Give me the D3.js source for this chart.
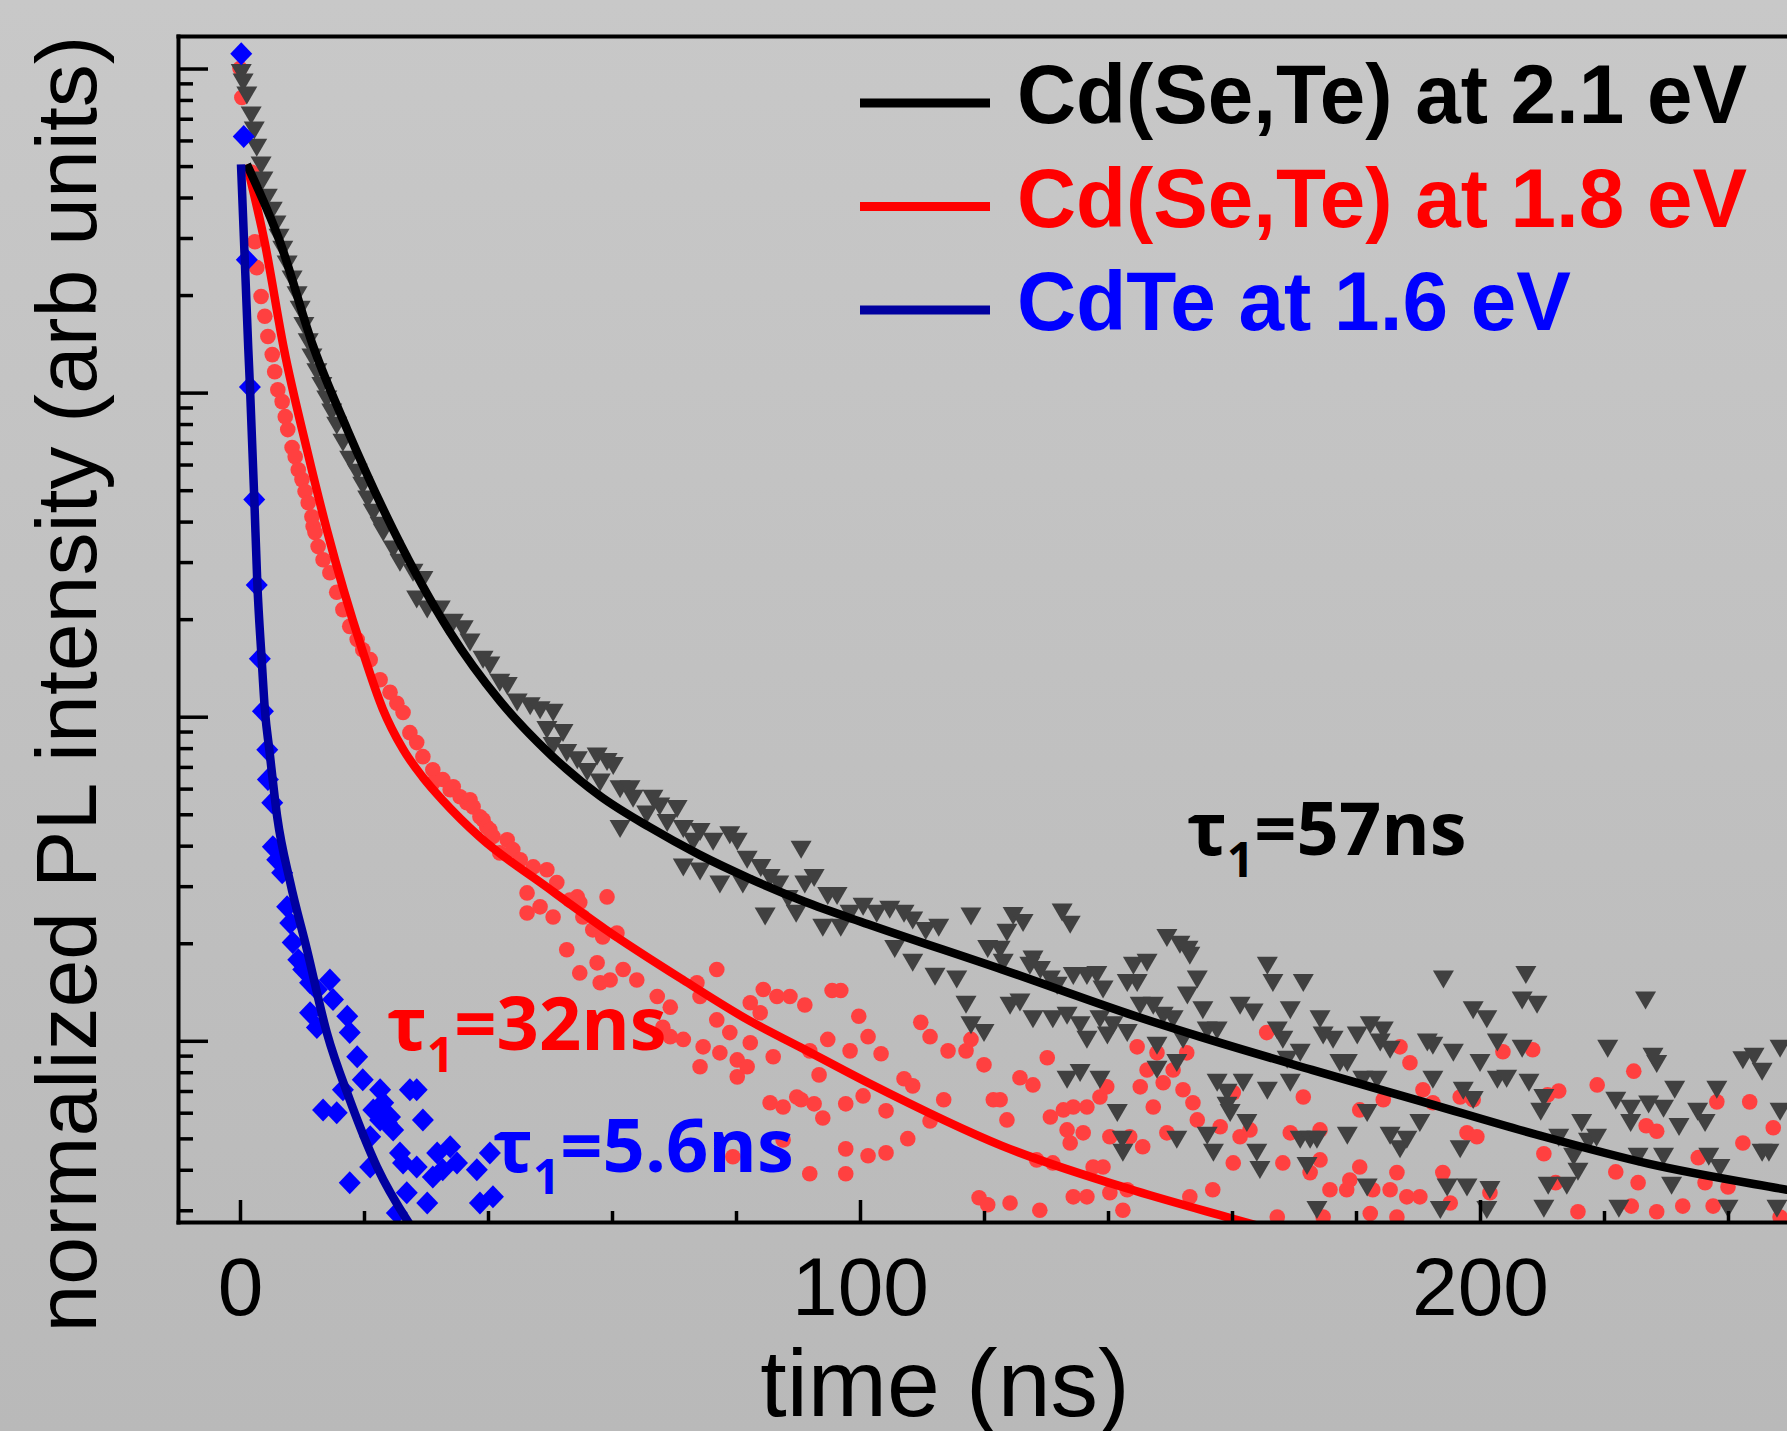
<!DOCTYPE html>
<html lang="en">
<head>
<meta charset="utf-8">
<style>
  body { margin:0; padding:0; background:#c0c0c0; }
  svg { display:block; }
  .lbl { font-family: "Liberation Sans", Arial, sans-serif; }
  .note { font-family: "Open Sans", "Noto Sans", sans-serif; font-weight: 700; }
</style>
</head>
<body>
<svg id="chart" width="1787" height="1431"></svg>
<script src="https://cdn.jsdelivr.net/npm/d3@7"></script>
<script>
// ---- data (time in ns, normalized PL intensity) ----
const xDomain = [-10, 260];
const yDomain = [2.76e-4, 1.26];
const xMajorTicks = [0, 100, 200];
const xMinorTicks = [20, 40, 60, 80, 120, 140, 160, 180, 220, 240];
const yMajorTicks = [1e-3, 1e-2, 1e-1, 1];

const seriesNames = ["Cd(Se,Te) at 2.1 eV", "Cd(Se,Te) at 1.8 eV", "CdTe at 1.6 eV"];
const lifetimes = ["57ns", "32ns", "5.6ns"];

// Cd(Se,Te) at 2.1 eV (triangles)
const blackPts = [
[0.2,0.99],[0.5,0.925],[1.1,0.843],[1.8,0.732],[2.3,0.658],[2.7,0.582],[3.4,0.513],[3.7,0.461],[4.4,0.408],[5.2,0.372],[5.8,0.337],[6.3,0.307],[6.9,0.282],[7.6,0.254],[8.4,0.228],[9.2,0.204],[9.7,0.184],[10.3,0.164],[11.0,0.146],[11.6,0.131],[12.4,0.118],[13.2,0.107],[14.0,0.0972],[14.8,0.0887],[15.6,0.0808],[16.6,0.0716],[17.7,0.0634],[18.9,0.0578],[19.8,0.0527],[20.6,0.0478],[21.5,0.0435],[22.6,0.0397],
[23.1,0.0378],[24.7,0.0335],[25.8,0.0305],[27.9,0.0284],[29.5,0.0270],[28.5,0.0235],[30.2,0.0219],[32.3,0.0219],[33.4,0.0195],[34.4,0.0199],[36.0,0.0190],[37.1,0.0173],[39.2,0.0153],[40.3,0.0147],[41.9,0.0130],[43.1,0.0127],[44.7,0.0113],[46.8,0.0110],[48.4,0.0107],[50.5,0.0105],[49.5,0.0093],[52.1,0.0091],[50.5,0.0083],[52.7,0.0079],[54.4,0.0075],[57.6,0.0077],[59.2,0.0074],[60.2,0.0072],[56.0,0.0069],[58.1,0.0064],[61.3,0.0061],[62.9,0.0061],[63.4,0.0057],[66.6,0.0057],[67.7,0.0054],[70.5,0.0053],[65.6,0.0051],[68.9,0.0048],[61.3,0.0046],[71.5,0.0046],[74.2,0.0045],[73.1,0.0042],[76.3,0.0042],[79.0,0.0044],[80.2,0.0042],[71.5,0.0035],[74.2,0.0034],[77.4,0.0031],[81.1,0.0031],[81.8,0.0037],
[84.0,0.00349],[85.5,0.00325],[86.9,0.00310],[88.4,0.00280],[89.7,0.00252],[84.7,0.00247],[91.1,0.00310],[92.6,0.00325],[94.8,0.00286],[96.3,0.00286],[90.5,0.00397],[94.0,0.00228],[96.9,0.00228],[98.4,0.00252],[100.5,0.00265],[102.7,0.00252],[104.8,0.00259],[107.1,0.00252],[108.5,0.00240],[110.6,0.00223],[112.7,0.00228],[105.6,0.00196],[108.5,0.00178],[112.1,0.00161],[115.6,0.00158],[117.9,0.00247],[120.6,0.00196],[117.1,0.00132],[117.9,0.00114],[120.0,0.00108],
[124.7,0.00248],[126.3,0.00236],[123.7,0.00220],[132.6,0.00254],[133.9,0.00233],[122.6,0.00195],[123.1,0.00178],[127.9,0.00182],[129.1,0.00169],[127.4,0.00174],[130.7,0.00158],[131.8,0.00151],[134.4,0.00162],[136.6,0.00162],[138.2,0.00163],[139.2,0.00147],[144.1,0.00174],[146.3,0.00178],[143.1,0.00154],[144.7,0.00154],[149.5,0.00212],[151.6,0.00202],[152.9,0.00195],[153.2,0.00187],[154.4,0.00158],[152.8,0.00141],[124.2,0.00131],[125.8,0.00134],[127.9,0.00119],[131.1,0.00119],[133.4,0.00122],[135.5,0.00114],[136.6,0.00103],[138.7,0.00119],[140.8,0.00114],[143.1,0.00108],[139.9,0.00106],[145.2,0.00131],[147.3,0.00131],[148.9,0.00122],[150.5,0.00119],[152.1,0.00103],[155.3,0.00127],[156.0,0.00110],[157.6,0.00110],[161.3,0.00131],[163.4,0.00125],[165.7,0.00174],[166.6,0.00154],[171.5,0.00154],[169.4,0.00127],[167.3,0.00110],[168.2,0.00103],[174.2,0.00119],[174.7,0.00106],[176.3,0.00103],[180.2,0.00106],[182.3,0.00114],[184.4,0.00110],[183.9,0.00101],[185.5,0.000958],[191.5,0.00101],[192.4,0.000986],[194.1,0.00158],[195.7,0.000938],[198.9,0.00127],[201.1,0.00119],[202.8,0.00101],[200.0,0.000873],
[133.4,0.000774],[135.5,0.000813],[138.7,0.000774],[147.9,0.000832],[151.1,0.000873],[147.9,0.000986],[157.6,0.000758],[159.2,0.000706],[161.8,0.000758],[165.7,0.000717],[169.4,0.000758],[168.9,0.000893],[171.0,0.000938],[177.4,0.000873],[178.6,0.000873],[181.1,0.000774],[183.4,0.000774],[192.4,0.000774],[197.3,0.000717],[198.9,0.000671],[202.8,0.000774],
[141.5,0.000612],[142.3,0.000506],[142.4,0.000461],[151.1,0.000506],[156.0,0.000520],[157.0,0.000461],[159.2,0.000644],[159.7,0.000612],[162.4,0.000570],[164.0,0.000461],[164.5,0.000408],[171.0,0.000506],[172.6,0.000506],[173.7,0.000506],[172.1,0.000420],[178.6,0.000520],[181.8,0.000612],[185.5,0.000520],[187.1,0.000473],[188.2,0.000506],[190.3,0.000570],[196.8,0.000473],[201.6,0.000354],[197.9,0.000360],[194.7,0.000360],[181.8,0.000360],[173.7,0.000307],[193.6,0.000307],[201.1,0.000307],
[204.3,0.000780],[206.8,0.000966],[207.9,0.000758],[207.4,0.00163],[206.8,0.00136],[209.2,0.00132],[209.8,0.000617],[210.3,0.000681],[211.0,0.000365],[212.7,0.000513],[214.0,0.000365],[215.1,0.000448],[215.8,0.000403],[216.4,0.000570],[217.5,0.000499],[218.8,0.000513],[220.6,0.000966],[221.9,0.000667],[224.3,0.000630],[224.3,0.000570],[225.5,0.000448],[226.7,0.00136],[227.2,0.000650],[227.9,0.000912],[228.5,0.000866],[229.6,0.000448],[229.6,0.000630],[230.9,0.000365],[231.4,0.000721],[232.1,0.000554],[235.1,0.000617],[236.3,0.000570],[236.9,0.000448],[238.2,0.000721],[238.7,0.000414],[240.0,0.000310],[242.4,0.000890],[244.2,0.000912],[245.5,0.000820],[245.5,0.000461],[246.6,0.000461],[247.9,0.000310],[248.4,0.000966],[248.4,0.000617],[210.3,0.000310],[222.4,0.000310]
];

// Cd(Se,Te) at 1.8 eV (circles)
const redPts = [
[0.0,1.0],[0.3,0.814],[1.9,0.478],[2.4,0.292],[2.7,0.243],[3.4,0.198],[4.0,0.172],[4.5,0.149],[5.2,0.131],[5.6,0.116],[6.1,0.102],[6.8,0.0938],[7.3,0.0843],[7.7,0.0769],[8.4,0.0677],[8.9,0.0634],[9.4,0.0578],[10.0,0.0539],[10.5,0.0495],[11.0,0.0457],[11.6,0.0414],[11.8,0.0386],
[12.1,0.0370],[12.6,0.0335],[13.4,0.0305],[14.5,0.0278],[15.6,0.0242],[16.6,0.0214],[17.7,0.0190],[18.9,0.0173],[19.8,0.0161],[21.0,0.0150],[22.6,0.0130],[24.2,0.0119],[25.3,0.0110],[26.3,0.0103],[27.4,0.00893],[28.5,0.00832],
[29.5,0.00753],[31.1,0.00686],[31.1,0.00625],[32.7,0.00640],[33.9,0.00595],[34.4,0.00608],[35.5,0.00566],[36.6,0.00543],[37.1,0.00554],[37.6,0.00527],[38.7,0.00491],[39.2,0.00481],[39.8,0.00457],[40.3,0.00448],[40.8,0.00427],[43.1,0.00417],[44.0,0.00389],[41.9,0.00380],[45.2,0.00362],[47.3,0.00344],[49.5,0.00337],[51.1,0.00308],[46.3,0.00286],[54.4,0.00278],[59.2,0.00278],
[46.3,0.00248],[48.4,0.00259],[50.5,0.00241],[53.2,0.00272],[54.8,0.00267],[55.3,0.00241],[56.9,0.00220],[58.5,0.00209],[60.8,0.00215],[52.7,0.00191],[54.8,0.00162],[57.6,0.00174],[59.7,0.00154],[58.1,0.00151],[61.8,0.00166],[64.0,0.00154],
[67.3,0.00137],[69.4,0.00127],[68.2,0.00110],[69.4,0.00103],[71.5,0.00101],[73.7,0.00151],[74.2,0.00137],[74.7,0.000958],[76.9,0.00166],[76.9,0.00116],[79.0,0.00106],[77.4,0.000918],[80.2,0.000873],[82.3,0.000986],[82.3,0.00131],[84.4,0.00144],[86.6,0.00137],[83.9,0.00122],[86.0,0.000893],[88.7,0.00137],[74.2,0.000832],[80.2,0.000774],[81.8,0.000832],[85.5,0.000644],[87.6,0.000625],[89.8,0.000671],[87.6,0.000494],[79.5,0.000439],
[91.1,0.00129],[95.5,0.00143],[96.9,0.00143],[99.8,0.00119],[101.3,0.00103],[103.4,0.000912],[98.4,0.000931],[94.8,0.00101],[93.4,0.000785],[91.9,0.000931],[90.5,0.000658],[92.6,0.000639],[94.0,0.000578],[97.7,0.000639],[100.5,0.000676],[104.2,0.000608],[107.1,0.000764],[108.5,0.000726],[109.8,0.00114],[111.3,0.00103],[114.2,0.000931],[117.1,0.000931],[117.9,0.00101],[120.0,0.000843],[121.5,0.000658],[113.5,0.000658],[111.3,0.000566],[107.7,0.000499],[104.2,0.000451],[97.7,0.000464],[91.9,0.000389],[97.7,0.000389],[101.3,0.000442],[119.2,0.000328],[120.6,0.000312],
[130.2,0.000887],[125.8,0.000769],[127.9,0.000731],[122.6,0.000658],[123.7,0.000570],[130.7,0.000582],[132.8,0.000612],[134.4,0.000625],[136.6,0.000625],[138.7,0.000671],[139.8,0.000721],[133.4,0.000531],[133.9,0.000484],[136.0,0.000520],[140.3,0.000506],[143.5,0.000506],[145.6,0.000471],[144.7,0.000958],[146.3,0.000813],[147.9,0.000918],[145.2,0.000721],[148.9,0.000742],[150.5,0.000813],[152.7,0.000918],[152.1,0.000706],[153.7,0.000644],[154.4,0.000570],[147.3,0.000625],[149.5,0.000520],[158.1,0.000543],[161.3,0.000506],[162.9,0.000531],[165.6,0.00106],[160.2,0.000692],[171.5,0.000671],[174.2,0.000531],[169.4,0.000520],[128.5,0.000429],[131.1,0.000420],[137.6,0.000408],[139.2,0.000408],[124.2,0.000316],[129.0,0.000300],[134.4,0.000330],[136.6,0.000330],[140.3,0.000340],[143.1,0.000347],[142.4,0.000300],[153.2,0.000330],[156.9,0.000347],[160.2,0.000420],[168.2,0.000420],[174.2,0.000429],[172.6,0.000392],[180.6,0.000408],[179.0,0.000372],[175.8,0.000347],[178.5,0.000347],[182.7,0.000347],[185.5,0.000347],[188.2,0.000330],[190.3,0.000330],[186.6,0.000392],[186.6,0.000286],[182.3,0.000293],[167.3,0.000286],[174.7,0.000286],[180.6,0.000612],[184.4,0.000658],[187.1,0.000958],[188.7,0.000856],[190.8,0.000706],[192.4,0.000644],[196.8,0.000671],[198.9,0.000658],[197.9,0.000520],[199.5,0.000506],[194.0,0.000392],[195.2,0.000316],[201.6,0.000340],
[208.5,0.000938],[210.9,0.000681],[212.7,0.000700],[210.3,0.000448],[212.2,0.000365],[215.8,0.000297],[218.9,0.000731],[221.9,0.000394],[224.8,0.000806],[225.5,0.000365],[224.4,0.000309],[226.8,0.000547],[228.5,0.000526],[228.5,0.000297],[232.7,0.000309],[235.2,0.000436],[236.3,0.000365],[237.6,0.000309],[238.2,0.000648],[240.0,0.000354],[242.4,0.000484],[243.5,0.000648],[247.3,0.000539],[248.4,0.000286],[203.7,0.000925]
];

// CdTe at 1.6 eV (diamonds)
const bluePts = [
[0.2,1.11],[0.6,0.617],[1.1,0.257],[1.6,0.104],[2.3,0.0468],[2.7,0.0255],[3.2,0.0151],[3.7,0.0104],[4.4,0.00791],[4.5,0.00640],[5.2,0.00543],[5.3,0.00397],[6.0,0.00362],[6.8,0.00330],[7.6,0.00259],[8.1,0.00231],[8.5,0.00201],[9.4,0.00178],[10.2,0.00166],[11.3,0.00151],[12.4,0.00144],[14.5,0.00154],[15.0,0.00134],[11.3,0.00122],[12.4,0.00110],[17.3,0.00119],[17.7,0.00106],[18.9,0.000893],[13.4,0.000612],[15.6,0.000600],[16.6,0.000706],[19.8,0.000758],[22.6,0.000706],[27.4,0.000706],[28.5,0.000706],[21.5,0.000612],[23.1,0.000600],[23.7,0.000558],[24.7,0.000531],[21.0,0.000506],[29.5,0.000570],[25.8,0.000451],[26.3,0.000420],[28.5,0.000408],[31.8,0.000451],[33.9,0.000471],[35.0,0.000420],[31.1,0.000380],[38.2,0.000400],[40.3,0.000451],[21.0,0.000408],[17.7,0.000365],[26.9,0.000340],[25.3,0.000294],[30.2,0.000316],[38.7,0.000316],[40.8,0.000330],[32.7,0.000400],[22.6,0.000570],[24.2,0.000582],[23.1,0.000644]
];

// fitted decays
const blackFit = [[1.1,0.506],[6.5,0.290],[11.8,0.139],[17.3,0.0769],[24.7,0.0378],[33.9,0.0182],[41.9,0.0112],[50.0,0.00767],[58.1,0.00569],[66.0,0.00457],[74.0,0.00376],[82.3,0.00316],[91.0,0.00269],[101.3,0.00229],[122.9,0.00166],[144.5,0.00119],[154.8,0.00103],[172.9,0.000813],[191.1,0.000646],[209.2,0.000513],[227.3,0.000417],[249.5,0.000347],[260,0.00032]];
const redFit = [[1.1,0.506],[4.0,0.290],[7.1,0.136],[10.8,0.0667],[14.0,0.0378],[19.7,0.0161],[23.0,0.0106],[26.3,0.00794],[29.5,0.0065],[32.7,0.00552],[38.7,0.00425],[49.5,0.00298],[58.9,0.00221],[71.5,0.00154],[82.3,0.00115],[90.3,0.000957],[101.3,0.000742],[122.9,0.000474],[144.5,0.000344],[160.3,0.000282],[171.0,0.000247]];
const blueFit = [[0.16,0.506],[1.34,0.136],[1.61,0.104],[2.31,0.0468],[2.79,0.0259],[3.5,0.015],[4.03,0.0104],[4.73,0.00791],[6.0,0.00491],[8.1,0.00308],[10.8,0.00191],[14.0,0.00106],[17.7,0.000658],[22.1,0.000408],[27.9,0.000262]];

// ---- drawing ----
const svg = d3.select("#chart");
const plotL = 178, plotR = 1852, plotT = 36, plotB = 1222;

const x = d3.scaleLinear().domain(xDomain).range([plotL, plotR]);
const y = d3.scaleLog().domain(yDomain).range([plotB, plotT]);

const defs = svg.append("defs");
const grad = defs.append("linearGradient").attr("id", "bg").attr("x1", 0).attr("y1", 0).attr("x2", 0).attr("y2", 1);
grad.append("stop").attr("offset", 0).attr("stop-color", "#c8c8c8");
grad.append("stop").attr("offset", 1).attr("stop-color", "#b9b9b9");
defs.append("clipPath").attr("id", "plot")
  .append("rect").attr("x", plotL).attr("y", plotT).attr("width", plotR - plotL).attr("height", plotB - plotT);

svg.append("rect").attr("width", 1787).attr("height", 1431).attr("fill", "url(#bg)");

const plot = svg.append("g").attr("clip-path", "url(#plot)");

// markers
plot.append("g").selectAll("circle").data(redPts).join("circle")
  .attr("cx", d => x(d[0])).attr("cy", d => y(d[1])).attr("r", 7.8)
  .attr("fill", "#ff4040");

plot.append("g").selectAll("path").data(blackPts).join("path")
  .attr("d", "M-10.5,-6L10.5,-6L0,12Z")
  .attr("transform", d => `translate(${x(d[0])},${y(d[1])})`)
  .attr("fill", "#404040");

plot.append("g").selectAll("path").data(bluePts).join("path")
  .attr("d", "M0,-11.5L11,0L0,11.5L-11,0Z")
  .attr("transform", d => `translate(${x(d[0])},${y(d[1])})`)
  .attr("fill", "#0000ff");

// fit lines
const line = d3.line().x(d => x(d[0])).y(d => y(d[1])).curve(d3.curveMonotoneX);
const fits = [[redFit, "#ff0000"], [blackFit, "#000000"], [blueFit, "#0000a0"]];
fits.forEach(([data, col]) => {
  plot.append("path").datum(data).attr("d", line)
    .attr("fill", "none").attr("stroke", col).attr("stroke-width", 8.5)
    .attr("stroke-linejoin", "round");
});

// axes
function styleAxis(g) {
  g.select(".domain").attr("stroke", "#000").attr("stroke-width", 4).attr("stroke-linecap", "square");
  g.selectAll(".tick line").attr("stroke", "#000").attr("stroke-width", 3.5);
}

const xAxis = svg.append("g").attr("transform", `translate(0,${plotB})`)
  .call(d3.axisBottom(x).tickValues(xMajorTicks).tickSizeInner(-22).tickSizeOuter(0)
    .tickPadding(35).tickFormat(d3.format("d")));
styleAxis(xAxis);
xAxis.selectAll("text").attr("class", "lbl").attr("font-size", 82).attr("fill", "#000");

const xMinor = svg.append("g").attr("transform", `translate(0,${plotB})`)
  .call(d3.axisBottom(x).tickValues(xMinorTicks).tickSize(-11).tickFormat(""));
xMinor.select(".domain").remove();
styleAxis(xMinor);

const xTop = svg.append("g").attr("transform", `translate(0,${plotT})`)
  .call(d3.axisTop(x).tickValues([]).tickSizeOuter(0));
styleAxis(xTop);

const yAxis = svg.append("g").attr("transform", `translate(${plotL},0)`)
  .call(d3.axisLeft(y).tickValues(yMajorTicks).tickSizeInner(-30).tickSizeOuter(0).tickFormat(""));
styleAxis(yAxis);

const yMinorTicks = y.ticks().filter(v => !yMajorTicks.some(m => Math.abs(m - v) / m < 1e-6));
const yMinor = svg.append("g").attr("transform", `translate(${plotL},0)`)
  .call(d3.axisLeft(y).tickValues(yMinorTicks).tickSize(-15).tickFormat(""));
yMinor.select(".domain").remove();
styleAxis(yMinor);

// axis titles
svg.append("text").attr("class", "lbl")
  .attr("x", 945).attr("y", 1416).attr("text-anchor", "middle")
  .attr("font-size", 95).attr("fill", "#000").text("time (ns)");

svg.append("text").attr("class", "lbl")
  .attr("transform", "translate(96,684) rotate(-90)").attr("text-anchor", "middle")
  .attr("font-size", 86).attr("fill", "#000").text("normalized PL intensity (arb units)");

// legend
const legendLine = ["#000000", "#ff0000", "#0000a0"];
const legendText = ["#000000", "#ff0000", "#0000ff"];
const widths = [730, 730, 554];
seriesNames.forEach((name, i) => {
  const yy = 103 + i * 103.5;
  svg.append("line").attr("x1", 860).attr("x2", 990).attr("y1", yy).attr("y2", yy)
    .attr("stroke", legendLine[i]).attr("stroke-width", 9);
  svg.append("text").attr("class", "lbl")
    .attr("x", 1017).attr("y", yy + 20)
    .attr("font-size", 83).attr("font-weight", "bold").attr("fill", legendText[i])
    .attr("textLength", widths[i]).attr("lengthAdjust", "spacingAndGlyphs")
    .text(name);
});

// lifetime notes
const notePos = [[1187, 855, "#000000"], [387, 1050, "#ff0000"], [493, 1172, "#0000ff"]];
lifetimes.forEach((v, i) => {
  const [nx, ny, col] = notePos[i];
  const t = svg.append("text").attr("class", "note")
    .attr("x", nx).attr("y", ny).attr("font-size", 74).attr("fill", col);
  t.append("tspan").text("\u03c4");
  t.append("tspan").attr("font-size", 48).attr("dy", 22).text("1");
  t.append("tspan").attr("dy", -22).text("=" + v);
});
</script>
</body>
</html>
